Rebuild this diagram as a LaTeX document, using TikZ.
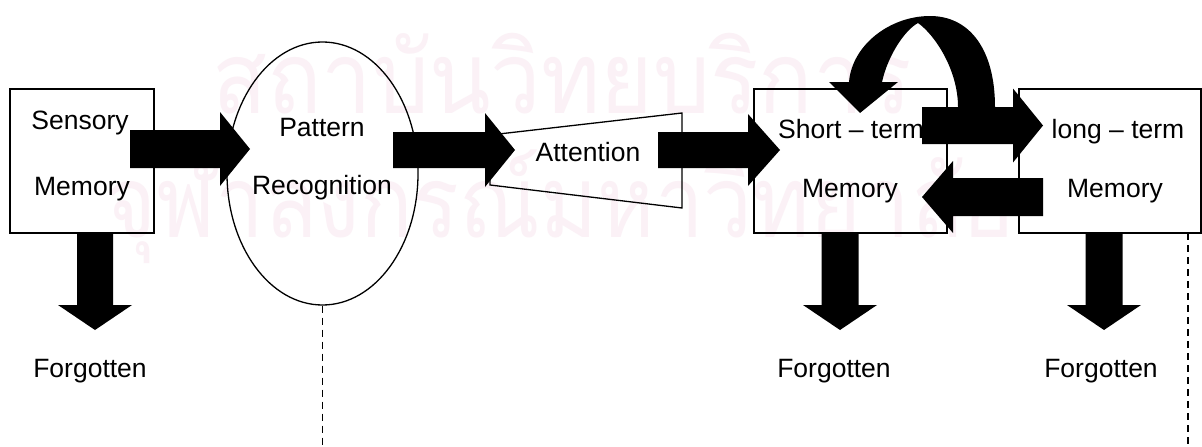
\documentclass[tikz,border=0pt]{standalone}
\usepackage{fontspec}
\setmainfont{Liberation Sans}
\newfontfamily\thaifont[Script=Thai]{Loma}
\usetikzlibrary{shapes.geometric}
\definecolor{wm}{RGB}{251,241,246}
\newcommand{\harrow}[6]{\fill[black] (#1,#4-#5) -- (#2,#4-#5) -- (#2,#4-#6) -- (#3,#4) -- (#2,#4+#6) -- (#2,#4+#5) -- (#1,#4+#5) -- cycle;}
\newcommand{\varrow}[6]{\fill[black] (#4-#5,#1) -- (#4-#5,#2) -- (#4-#6,#2) -- (#4,#3) -- (#4+#6,#2) -- (#4+#5,#2) -- (#4+#5,#1) -- cycle;}
\begin{document}
\begin{tikzpicture}[x=1pt,y=-1pt,
  box/.style={draw, line width=1.3pt, inner sep=0pt},
  lbl/.style={font=\fontsize{26.5}{32}\selectfont, inner sep=0pt, anchor=base},
  wmtext/.style={font=\thaifont\fontsize{100}{120}\selectfont, text=wm, inner sep=0pt, anchor=base west},
  dashline/.style={line width=1.2pt, dash pattern=on 7pt off 5pt}]
\useasboundingbox (0,0) rectangle (1202,447);
\fill[white] (0,0) rectangle (1202,447);
% watermark
\node[wmtext, xscale=0.9] (wm1) at (212,113) {สถาบันวิทยบริการ};
\node[wmtext, xscale=0.87] (wm2) at (105,237) {จุฬาลงกรณ์มหาวิทยาลัย};
% shapes
\node[box, minimum width=144pt, minimum height=144pt] (sensory) at (82,161) {};
\node[box, ellipse, minimum width=191pt, minimum height=263pt] (pattern) at (322.5,173.5) {};
\node[box, minimum width=193pt, minimum height=144pt] (short) at (850.5,161) {};
\node[box, minimum width=182pt, minimum height=144pt] (long) at (1110,161) {};
\draw[line width=1.3pt] (490,135) -- (682,113) -- (682,208) -- (490,185) -- cycle;
\coordinate (pend) at (322.5,447);
\draw[dashline] (pattern.south) -- (pend);
\coordinate (ltop) at (1188,233);
\coordinate (lend) at (1188,447);
\draw[dashline] (ltop) -- (lend);
% labels
\node[lbl] (t1) at (80,129) {Sensory};
\node[lbl] (t2) at (82,195) {Memory};
\node[lbl] (t3) at (322,136) {Pattern};
\node[lbl] (t4) at (322,194) {Recognition};
\node[lbl] (t5) at (588,161) {Attention};
\node[lbl, anchor=base west] (t6) at (778,138) {Short – term};
\node[lbl] (t7) at (850,197) {Memory};
\node[lbl] (t8) at (1118,138) {long – term};
\node[lbl] (t9) at (1115,197) {Memory};
\node[lbl] (f1) at (90,377) {Forgotten};
\node[lbl] (f2) at (834,377) {Forgotten};
\node[lbl] (f3) at (1101,377) {Forgotten};
% block arrows
\harrow{130}{220}{250}{149}{19}{37}
\harrow{393}{485}{515}{150}{18}{37}
\harrow{658}{748}{780}{150}{18}{36}
\harrow{922}{1013}{1043}{125.5}{18.5}{37}
\harrow{1043}{953}{922}{197}{19}{36}
\varrow{233}{305}{330}{95}{18}{37}
\varrow{233}{305}{330}{840}{18.5}{37}
\varrow{233}{305}{330}{1104}{18.5}{37}
% curved arrow
\fill[black] (995,107) .. controls (995,50) and (970,16) .. (930,16)
  .. controls (890,16) and (852,45) .. (849,82)
  -- (829,82) -- (860,113) -- (898,82) -- (882,82)
  .. controls (888,55) and (905,30) .. (918,23)
  .. controls (935,35) and (958,70) .. (958,107) -- cycle;
\end{tikzpicture}
\end{document}
